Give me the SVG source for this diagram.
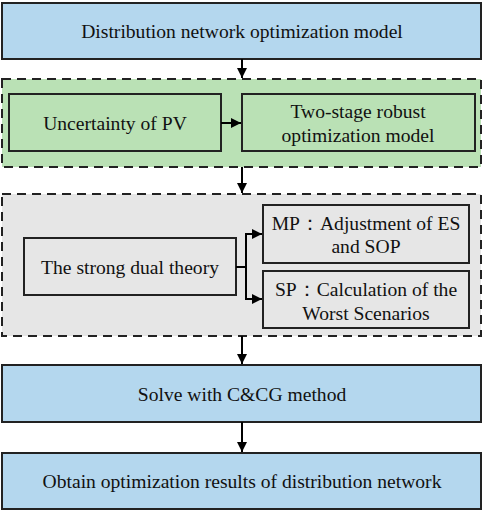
<svg xmlns="http://www.w3.org/2000/svg" width="484" height="512" viewBox="0 0 484 512">
<defs>
<marker id="ah" viewBox="0 0 10 10" refX="10" refY="5" markerWidth="10" markerHeight="10" markerUnits="userSpaceOnUse" orient="auto">
<path d="M0,0 L10,5 L0,10 Z" fill="#000"/>
</marker>
<style>
text{font-family:"Liberation Serif","Times New Roman","DejaVu Serif",serif;font-size:19.6px;fill:#111;text-anchor:middle;dominant-baseline:central}
.blue{fill:#b4d7ee;stroke:#222;stroke-width:2}
.gframe{fill:#bae1b5;stroke:#222;stroke-width:2;stroke-dasharray:9,6}
.gbox{fill:#bae1b5;stroke:#222;stroke-width:2}
.yframe{fill:#e6e6e6;stroke:#222;stroke-width:2;stroke-dasharray:9,6}
.ybox{fill:#e6e6e6;stroke:#222;stroke-width:2}
.c{fill:none;stroke:#000;stroke-width:2}
</style>
</defs>
<g id="n1"><rect class="blue" x="2" y="3" width="479" height="56"/><text x="242" y="31">Distribution network optimization model</text></g>
<g id="g1"><rect class="gframe" x="2" y="79" width="479" height="88"/></g>
<g id="n2"><rect class="gbox" x="9" y="94" width="212" height="57"/><text x="115" y="123">Uncertainty of PV</text></g>
<g id="n3"><rect class="gbox" x="242" y="94" width="233" height="57"/><text x="358" y="111">Two-stage robust</text><text x="358" y="135">optimization model</text></g>
<g id="g2"><rect class="yframe" x="2" y="194" width="479" height="142"/></g>
<g id="n4"><rect class="ybox" x="24" y="238" width="212" height="57"/><text x="130" y="267">The strong dual theory</text></g>
<g id="n5"><rect class="ybox" x="263" y="205" width="206" height="58"/><text x="366" y="223">MP：Adjustment of ES</text><text x="366" y="246">and SOP</text></g>
<g id="n6"><rect class="ybox" x="263" y="271" width="206" height="57"/><text x="366" y="289">SP：Calculation of the</text><text x="366" y="313">Worst Scenarios</text></g>
<g id="n7"><rect class="blue" x="2" y="365" width="479" height="57"/><text x="242" y="394">Solve with C&amp;CG method</text></g>
<g id="n8"><rect class="blue" x="2" y="453" width="479" height="56"/><text x="242" y="481">Obtain optimization results of distribution network</text></g>
<g id="connectors">
<line class="c" x1="242" y1="59" x2="242" y2="78" marker-end="url(#ah)"/>
<line class="c" x1="221" y1="123" x2="241" y2="123" marker-end="url(#ah)"/>
<line class="c" x1="242" y1="167" x2="242" y2="193" marker-end="url(#ah)"/>
<polyline class="c" points="236,267 246,267"/>
<polyline class="c" points="262,234 246,234 246,299 262,299"/>
<line class="c" x1="248" y1="234" x2="262" y2="234" marker-end="url(#ah)"/>
<line class="c" x1="248" y1="299" x2="262" y2="299" marker-end="url(#ah)"/>
<line class="c" x1="242" y1="336" x2="242" y2="364" marker-end="url(#ah)"/>
<line class="c" x1="242" y1="422" x2="242" y2="452" marker-end="url(#ah)"/>
</g>
</svg>
